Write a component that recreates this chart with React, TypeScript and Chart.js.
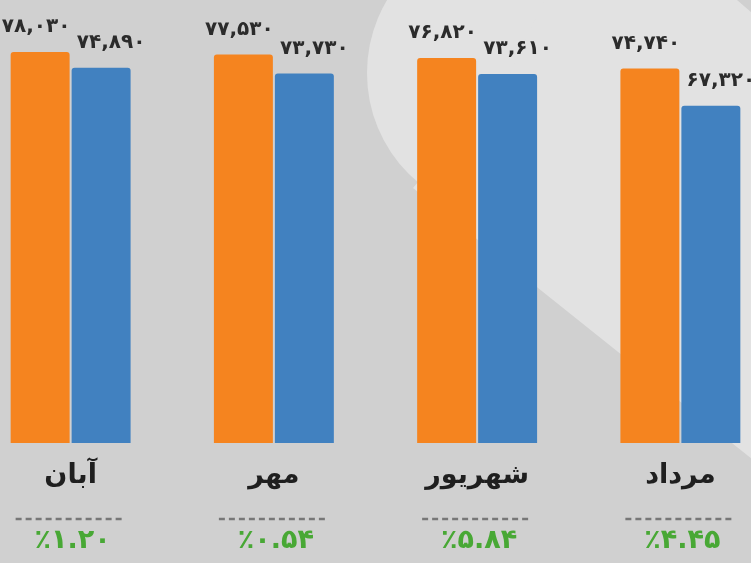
import React, { useEffect, useRef } from "react";
import { Chart, registerables } from "chart.js";
Chart.register(...registerables);

const categories = ["آبان", "مهر", "شهریور", "مرداد"];
const seriesOrange = [78030, 77530, 76820, 74740];
const seriesBlue = [74890, 73730, 73610, 67320];
const changePercent = [1.2, 0.54, 5.84, 4.45];

const ORANGE = "#F5841F";
const BLUE = "#4181C0";
const GREEN = "#48A835";
const OFF = 31;
const CW = 813;
const CH = 563;

const FA = "۰۱۲۳۴۵۶۷۸۹";
const toFa = (s: string) => s.replace(/[0-9]/g, (d) => FA[Number(d)]);
const fmtValue = (v: number) => toFa(v.toLocaleString("en-US"));
const fmtPct = (v: number) => "٪" + toFa(v.toFixed(2));

const bgPlugin = {
  id: "bg",
  beforeDraw(chart: any) {
    const ctx = chart.ctx;
    ctx.save();
    ctx.translate(OFF, 0);
    ctx.fillStyle = "#d0d0d0";
    ctx.fillRect(-OFF, 0, CW, CH);
    ctx.fillStyle = "#e2e2e2";
    ctx.beginPath();
    ctx.arc(510, 73, 143, 0, Math.PI * 2);
    ctx.fill();
    ctx.beginPath();
    ctx.moveTo(510, 73);
    ctx.lineTo(413, 188);
    ctx.lineTo(1100, 287 + 563 * 0.8);
    ctx.lineTo(1100, 363 * 0.86);
    ctx.lineTo(737, 0);
    ctx.lineTo(600, -118);
    ctx.closePath();
    ctx.fill();
    ctx.restore();
  },
};

const labelPlugin = {
  id: "labels",
  afterDraw(chart: any) {
    const ctx = chart.ctx;
    ctx.save();
    const offsets = [-4, 10];
    ctx.direction = "ltr";
    ctx.textAlign = "center";
    ctx.textBaseline = "middle";
    ctx.fillStyle = "#2b2b2b";
    ctx.font = 'bold 20px "DejaVu Sans"';
    chart.data.datasets.forEach((ds: any, di: number) => {
      const meta = chart.getDatasetMeta(di);
      meta.data.forEach((bar: any, i: number) => {
        ctx.fillText(fmtValue(ds.data[i]), bar.x + offsets[di], bar.y - 25);
      });
    });
    const xs = chart.scales.x;
    categories.forEach((c, i) => {
      const cx = xs.getPixelForValue(i);
      ctx.fillStyle = "#1f1f1f";
      ctx.font = 'bold 27px "DejaVu Sans"';
      ctx.direction = "rtl";
      ctx.fillText(c, cx, 476);
      ctx.direction = "ltr";
      ctx.strokeStyle = "#777777";
      ctx.lineWidth = 2.5;
      ctx.setLineDash([6, 4]);
      ctx.beginPath();
      ctx.moveTo(cx - 55, 519);
      ctx.lineTo(cx + 55, 519);
      ctx.stroke();
      ctx.setLineDash([]);
      ctx.fillStyle = GREEN;
      ctx.font = 'bold 27px "DejaVu Sans"';
      ctx.fillText(fmtPct(changePercent[i]), cx + 2, 541);
    });
    ctx.restore();
  },
};

export default function App() {
  const ref = useRef<HTMLCanvasElement>(null);
  useEffect(() => {
    if (!ref.current) return;
    const chart = new Chart(ref.current, {
      type: "bar",
      data: {
        labels: categories,
        datasets: [
          {
            data: seriesOrange,
            backgroundColor: ORANGE,
            borderRadius: 3,
            borderSkipped: "bottom",
            categoryPercentage: 0.6,
            barPercentage: 0.967,
          },
          {
            data: seriesBlue,
            backgroundColor: BLUE,
            borderRadius: 3,
            borderSkipped: "bottom",
            categoryPercentage: 0.6,
            barPercentage: 0.967,
          },
        ],
      },
      options: {
        responsive: false,
        animation: false,
        devicePixelRatio: 1,
        layout: { padding: { left: 0, right: 0, top: 0, bottom: 120 } },
        plugins: { legend: { display: false }, tooltip: { enabled: false } },
        scales: {
          x: { display: false, offset: true },
          y: { display: false, min: 0, max: 88400 },
        },
      },
      plugins: [bgPlugin, labelPlugin],
    });
    return () => chart.destroy();
  }, []);
  return (
    <div
      style={{
        position: "fixed",
        left: 0,
        top: 0,
        width: 751,
        height: 563,
        overflow: "hidden",
      }}
    >
      <canvas
        ref={ref}
        width={CW}
        height={CH}
        style={{ position: "absolute", left: -OFF, top: 0, width: CW, height: CH }}
      />
    </div>
  );
}
